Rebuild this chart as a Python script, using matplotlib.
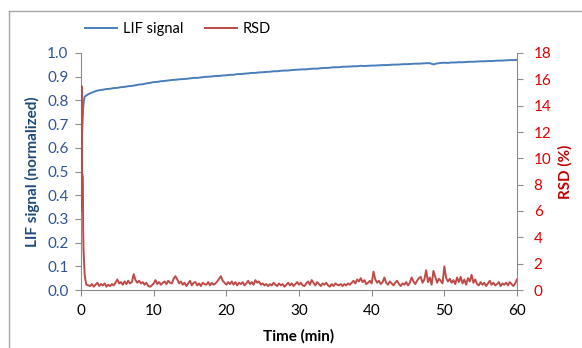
import numpy as np
import matplotlib.pyplot as plt
from matplotlib.lines import Line2D

plt.rcParams['font.family'] = ['Lato', 'DejaVu Sans']

# LIF signal (normalized) -- first few points, then every 0.5 min from 0.5 to 60
lif_t_start = [0.0, 0.1, 0.2, 0.3, 0.4]
lif_v_start = [0.55, 0.62, 0.70, 0.77, 0.80]
lif_v = [
    0.816, 0.826, 0.833, 0.839, 0.843, 0.845, 0.848, 0.849, 0.852, 0.853,
    0.856, 0.857, 0.860, 0.861, 0.864, 0.867, 0.868, 0.872, 0.874, 0.877,
    0.878, 0.881, 0.882, 0.884, 0.886, 0.887, 0.889, 0.890, 0.891, 0.893,
    0.895, 0.895, 0.897, 0.899, 0.900, 0.901, 0.903, 0.903, 0.905, 0.906,
    0.908, 0.908, 0.911, 0.911, 0.913, 0.914, 0.916, 0.916, 0.918, 0.919,
    0.920, 0.921, 0.923, 0.923, 0.925, 0.926, 0.926, 0.928, 0.929, 0.930,
    0.931, 0.931, 0.933, 0.934, 0.934, 0.936, 0.937, 0.937, 0.939, 0.940,
    0.940, 0.942, 0.942, 0.943, 0.944, 0.944, 0.946, 0.945, 0.946, 0.947,
    0.947, 0.948, 0.949, 0.949, 0.950, 0.951, 0.951, 0.952, 0.953, 0.953,
    0.954, 0.955, 0.955, 0.956, 0.957, 0.957, 0.952, 0.956, 0.958, 0.959,
    0.958, 0.960, 0.960, 0.961, 0.961, 0.962, 0.963, 0.963, 0.964, 0.965,
    0.965, 0.966, 0.966, 0.967, 0.968, 0.968, 0.969, 0.970, 0.970, 0.971,
]

# RSD (%) -- first few points, then every 0.25 min from 1.0 to 60
rsd_t_start = [0.0, 0.05, 0.1, 0.15, 0.2, 0.25, 0.3, 0.35, 0.4, 0.45, 0.5, 0.6, 0.7, 0.75]
rsd_v_start = [6.0, 15.5, 15.4, 9.0, 8.7, 8.6, 4.5, 3.0, 2.4, 1.8, 1.2, 0.8, 0.5, 0.4]
rsd_v = [
    0.35, 0.30, 0.45, 0.25, 0.40, 0.55, 0.30, 0.45, 0.35, 0.50, 0.25, 0.40, 0.30, 0.45, 0.35, 0.55, 0.80, 0.50, 0.60, 0.40,
    0.65, 0.45, 0.70, 0.50, 0.60, 1.20, 0.75, 0.55, 0.70, 0.50, 0.60, 0.40, 0.55, 0.30, 0.25, 0.35, 0.50, 0.75, 0.45, 0.60,
    0.40, 0.55, 0.65, 0.45, 0.70, 0.55, 0.50, 0.85, 1.05, 0.80, 0.50, 0.65, 0.40, 0.55, 0.30, 0.50, 0.70, 0.35, 0.55, 0.60,
    0.35, 0.50, 0.30, 0.55, 0.45, 0.40, 0.60, 0.35, 0.55, 0.40, 0.50, 0.65, 0.85, 1.05, 0.70, 0.55, 0.40, 0.60, 0.45, 0.65,
    0.40, 0.60, 0.35, 0.55, 0.45, 0.60, 0.35, 0.50, 0.70, 0.45, 0.60, 0.40, 0.75, 0.55, 0.65, 0.40, 0.50, 0.35, 0.45, 0.30,
    0.45, 0.35, 0.55, 0.40, 0.30, 0.50, 0.35, 0.45, 0.25, 0.40, 0.55, 0.35, 0.50, 0.30, 0.45, 0.60, 0.40, 0.55, 0.35, 0.30,
    0.50, 0.65, 0.40, 0.75, 0.55, 0.35, 0.60, 0.45, 0.30, 0.50, 0.40, 0.55, 0.35, 0.25, 0.45, 0.30, 0.50, 0.40, 0.35, 0.45,
    0.30, 0.45, 0.35, 0.50, 0.40, 0.55, 0.70, 0.50, 0.80, 0.65, 0.90, 0.60, 0.75, 0.45, 0.55, 0.70, 0.50, 1.40, 0.80, 0.55,
    0.70, 0.45, 0.60, 0.95, 0.55, 0.40, 0.65, 0.50, 0.35, 0.55, 0.70, 0.45, 0.30, 0.50, 0.40, 0.60, 0.35, 0.55, 0.95, 0.65,
    0.45, 0.70, 0.90, 1.00, 0.55, 0.80, 1.50, 0.60, 0.95, 0.40, 1.45, 1.00, 0.55, 0.85, 0.70, 0.50, 1.80, 0.90, 0.65, 0.85,
    0.55, 0.75, 0.45, 0.95, 0.60, 1.00, 0.50, 0.80, 0.40, 0.90, 0.65, 1.15, 0.55, 0.80, 0.45, 0.35, 0.60, 0.40, 0.55, 0.30,
    0.50, 0.70, 0.40, 0.55, 0.35, 0.45, 0.60, 0.30, 0.50, 0.40, 0.55, 0.35, 0.60, 0.45, 0.30, 0.50, 0.80,
]

lif_t = lif_t_start + list(0.5 * np.arange(1, len(lif_v) + 1))
lif_all = lif_v_start + lif_v
rsd_t = rsd_t_start + list(1.0 + 0.25 * np.arange(len(rsd_v)))
rsd_all = rsd_v_start + rsd_v

blue = '#4A7EBB'
red = '#BE4B48'
grey = '#8C8C8C'

fig = plt.figure(figsize=(5.82, 3.48), dpi=100)
ax = fig.add_axes([81 / 582, 1 - 290 / 348, 436 / 582, 237 / 348])
ax2 = ax.twinx()

ax.plot(lif_t, lif_all, color=blue, lw=1.4)
ax2.plot(rsd_t, rsd_all, color=red, lw=1.4)

ax.set_xlim(0, 60)
ax.set_ylim(0, 1.0)
ax2.set_ylim(0, 18)
ax.set_xticks(range(0, 61, 10))
ax.set_yticks(np.arange(0, 1.01, 0.1))
ax.set_yticklabels([f'{v:.1f}' for v in np.arange(0, 1.01, 0.1)])
ax2.set_yticks(range(0, 19, 2))

for a in (ax, ax2):
    a.spines['top'].set_visible(False)
    for s in ('left', 'right', 'bottom'):
        a.spines[s].set_color(grey)
ax.spines['right'].set_visible(False)
ax2.spines['left'].set_visible(False)
ax2.spines['bottom'].set_visible(False)

ax.tick_params(axis='y', direction='out', length=4, color=grey, labelsize=11,
               labelcolor='#2F5597', pad=5)
ax.tick_params(axis='x', direction='out', length=4, color=grey, labelsize=11,
               labelcolor='black', pad=6)
ax2.tick_params(axis='y', direction='out', length=4, color=grey, labelsize=11,
                labelcolor='#E00000', pad=8)

ax.set_xlabel('Time (min)', fontsize=11, fontweight='bold', labelpad=8)
ax.set_ylabel('LIF signal (normalized)', fontsize=11, fontweight='bold',
              color='#1F497D', labelpad=5)
ax2.set_ylabel('RSD (%)', fontsize=11, fontweight='bold', color='#C00000',
               labelpad=5)

handles = [Line2D([], [], color=blue, lw=1.4), Line2D([], [], color=red, lw=1.4)]
fig.legend(handles, ['LIF signal', 'RSD'], loc='center',
           bbox_to_anchor=(178 / 582, 1 - 29 / 348), ncol=2, frameon=False,
           fontsize=10.5, handlelength=2.2, handletextpad=0.4, columnspacing=1.5)

# chart frame
fig.add_artist(Line2D([9 / 582, 9 / 582], [0, 1 - 11 / 348],
                      transform=fig.transFigure, color='#A6A6A6', lw=1))
fig.add_artist(Line2D([9 / 582, 1], [1 - 11 / 348, 1 - 11 / 348],
                      transform=fig.transFigure, color='#A6A6A6', lw=1))

fig.savefig('out.png', dpi=100)
